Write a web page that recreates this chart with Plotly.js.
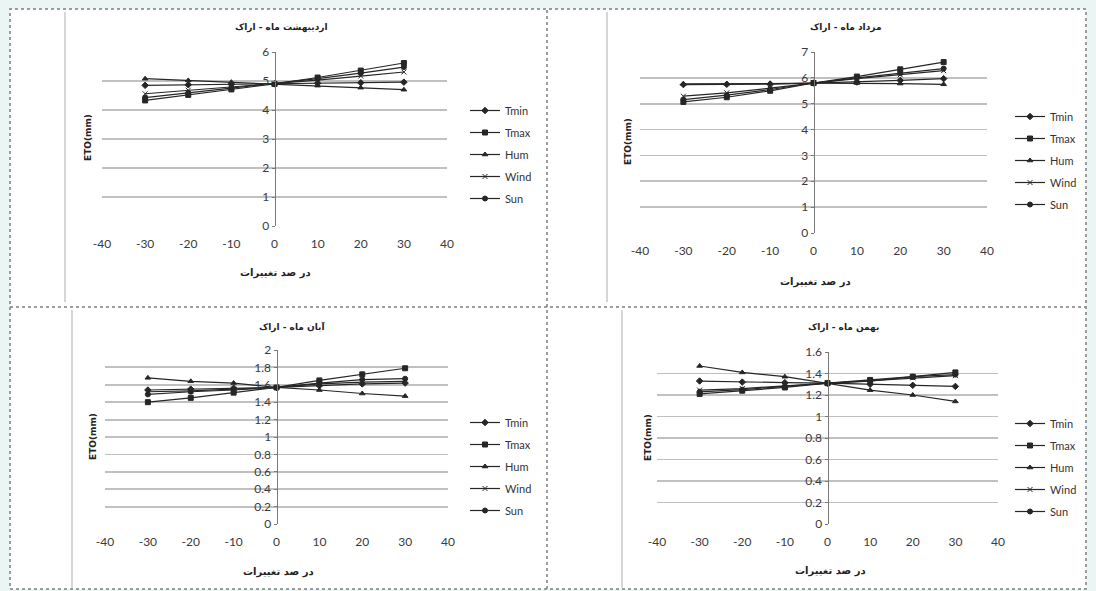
<!DOCTYPE html>
<html>
<head>
<meta charset="utf-8">
<script src="https://cdn.plot.ly/plotly-3.0.1.min.js"></script>
<style>
html,body{margin:0;padding:0;background:#ebf5f4;}
#chart{width:1096px;height:591px;}
</style>
</head>
<body>
<div id="chart"></div>
<script>
// ---------- data ----------
const changePct = [-30, -20, -10, 0, 10, 20, 30];
const seriesNames = ['Tmin', 'Tmax', 'Hum', 'Wind', 'Sun'];
const panelTitles = ['اردیبهشت ماه - اراک', 'مرداد ماه - اراک', 'آبان ماه - اراک', 'بهمن ماه - اراک'];
const xAxisTitle = 'در صد تغییرات';
const yAxisTitle = 'ETO(mm)';
const xTickVals = [-40, -30, -20, -10, 0, 10, 20, 30, 40];
const xTickText = ['-40', '-30', '-20', '-10', '0', '10', '20', '30', '40'];

// Ordibehesht
const ord_Tmin = [4.85, 4.87, 4.88, 4.90, 4.92, 4.94, 4.96];
const ord_Tmax = [4.33, 4.52, 4.71, 4.90, 5.12, 5.36, 5.62];
const ord_Hum  = [5.08, 5.02, 4.96, 4.90, 4.84, 4.77, 4.70];
const ord_Wind = [4.56, 4.68, 4.79, 4.90, 5.03, 5.17, 5.31];
const ord_Sun  = [4.43, 4.59, 4.75, 4.90, 5.08, 5.27, 5.48];
// Mordad
const mor_Tmin = [5.74, 5.75, 5.76, 5.80, 5.84, 5.90, 5.97];
const mor_Tmax = [5.07, 5.25, 5.50, 5.80, 6.05, 6.33, 6.61];
const mor_Hum  = [5.77, 5.77, 5.78, 5.80, 5.80, 5.78, 5.75];
const mor_Wind = [5.29, 5.42, 5.60, 5.80, 5.97, 6.12, 6.28];
const mor_Sun  = [5.16, 5.33, 5.55, 5.80, 6.00, 6.18, 6.36];
// Aban
const aba_Tmin = [1.54, 1.55, 1.56, 1.57, 1.59, 1.61, 1.62];
const aba_Tmax = [1.40, 1.45, 1.51, 1.57, 1.65, 1.72, 1.79];
const aba_Hum  = [1.68, 1.64, 1.62, 1.57, 1.54, 1.50, 1.47];
const aba_Wind = [1.52, 1.53, 1.55, 1.57, 1.61, 1.63, 1.64];
const aba_Sun  = [1.49, 1.52, 1.54, 1.57, 1.62, 1.66, 1.67];
// Bahman
const bah_Tmin = [1.33, 1.32, 1.315, 1.31, 1.30, 1.29, 1.28];
const bah_Tmax = [1.21, 1.24, 1.27, 1.31, 1.34, 1.37, 1.41];
const bah_Hum  = [1.47, 1.41, 1.37, 1.31, 1.245, 1.20, 1.14];
const bah_Wind = [1.245, 1.26, 1.285, 1.31, 1.33, 1.36, 1.38];
const bah_Sun  = [1.23, 1.25, 1.28, 1.31, 1.33, 1.37, 1.39];

const panelData = [
  [ord_Tmin, ord_Tmax, ord_Hum, ord_Wind, ord_Sun],
  [mor_Tmin, mor_Tmax, mor_Hum, mor_Wind, mor_Sun],
  [aba_Tmin, aba_Tmax, aba_Hum, aba_Wind, aba_Sun],
  [bah_Tmin, bah_Tmax, bah_Hum, bah_Wind, bah_Sun]
];
const yMax = [6, 7, 2, 1.6];
const yStep = [1, 1, 0.2, 0.2];

// ---------- layout geometry (pixels) ----------
const W = 1096, H = 591;
const px = v => v / W, py = v => 1 - v / H;
const plotBox = [ // left, right, top, bottom
  [102, 447, 52, 226],
  [640, 987, 52, 233],
  [105, 448, 350, 524],
  [657, 998, 352, 524]
];
const titlePos = [[281, 28], [845, 28], [292, 327], [843, 327]];
const xTitlePos = [[275, 273], [815, 282], [278, 572], [830, 571]];
const yTitlePos = [[88, 138], [628, 142], [93, 437], [648, 438]];
const legendPos = [[465, 96], [1010, 102], [465, 408], [1010, 409]];
const areaLines = [[65, 12, 302], [607, 12, 302], [72, 310, 588], [622, 310, 588]];

const symbols = ['diamond', 'square', 'triangle-up', 'x-thin', 'circle'];
const msizes = [5, 5, 5, 5, 5];
const lineColor = '#262626';
const tickFont = {family: 'Lato, "Open Sans", sans-serif', size: 12, color: '#3a3a3a'};
const faFont = {family: '"DejaVu Sans", sans-serif', size: 9, color: '#222'};

const traces = [];
const layout = {
  width: W, height: H,
  margin: {l: 0, r: 0, t: 0, b: 0},
  paper_bgcolor: '#ebf5f4',
  plot_bgcolor: '#ffffff',
  showlegend: true,
  annotations: [],
  shapes: []
};

for (let p = 0; p < 4; p++) {
  const sfx = p === 0 ? '' : String(p + 1);
  const [l, r, t, b] = plotBox[p];
  const xd = [px(l), px(r)], yd = [py(b), py(t)];
  layout['xaxis' + sfx] = {
    domain: xd, range: [-40, 40], anchor: 'y' + sfx,
    tickmode: 'array', tickvals: xTickVals, ticktext: xTickText,
    showgrid: false, zeroline: false, showline: false, ticks: '',
    ticklabelstandoff: 9, tickfont: tickFont, fixedrange: true
  };
  layout['yaxis' + sfx] = {
    domain: yd, range: [0, yMax[p]], dtick: yStep[p], tick0: 0,
    anchor: 'free', position: (xd[0] + xd[1]) / 2,
    showgrid: true, gridcolor: '#c0c0c0', gridwidth: 1.8,
    zeroline: false, showline: true, linecolor: '#7a7a7a', linewidth: 1,
    ticks: 'outside', ticklen: 3, tickcolor: '#7a7a7a',
    tickfont: tickFont, fixedrange: true
  };
  const legName = p === 0 ? 'legend' : 'legend' + (p + 1);
  layout[legName] = {
    x: px(legendPos[p][0]), y: py(legendPos[p][1]), xanchor: 'left', yanchor: 'top',
    bgcolor: 'rgba(0,0,0,0)', font: {family: 'Lato, "Open Sans", sans-serif', size: 11, color: '#333'},
    tracegroupgap: 3, itemwidth: 30
  };
  for (let s = 0; s < 5; s++) {
    traces.push({
      x: changePct, y: panelData[p][s], name: seriesNames[s],
      type: 'scatter', mode: 'lines+markers',
      xaxis: 'x' + sfx, yaxis: 'y' + sfx, legend: legName,
      legendgroup: 'g' + p + '_' + s,
      line: {color: lineColor, width: 1.2},
      marker: {symbol: symbols[s], size: msizes[s], color: lineColor, line: {color: lineColor, width: 1}},
      hoverinfo: 'skip'
    });
  }
  layout.annotations.push({
    text: '<b>' + panelTitles[p] + '</b>', xref: 'paper', yref: 'paper',
    x: px(titlePos[p][0]), y: py(titlePos[p][1]), xanchor: 'center', yanchor: 'middle',
    showarrow: false, font: faFont
  });
  layout.annotations.push({
    text: '<b>' + xAxisTitle + '</b>', xref: 'paper', yref: 'paper',
    x: px(xTitlePos[p][0]), y: py(xTitlePos[p][1]), xanchor: 'center', yanchor: 'middle',
    showarrow: false, font: {family: '"DejaVu Sans", sans-serif', size: 10, color: '#222'}
  });
  layout.annotations.push({
    text: '<b>' + yAxisTitle + '</b>', xref: 'paper', yref: 'paper', textangle: -90,
    x: px(yTitlePos[p][0]), y: py(yTitlePos[p][1]), xanchor: 'center', yanchor: 'middle',
    showarrow: false, font: {family: '"DejaVu Sans", sans-serif', size: 9, color: '#222'}
  });
  layout.shapes.push({
    type: 'line', xref: 'paper', yref: 'paper', layer: 'below',
    x0: px(areaLines[p][0]), x1: px(areaLines[p][0]), y0: py(areaLines[p][1]), y1: py(areaLines[p][2]),
    line: {color: '#d6d6d6', width: 2}
  });
}

// outer white box with dotted borders and dividers
layout.shapes.unshift(
  {type: 'rect', xref: 'paper', yref: 'paper', layer: 'below',
   x0: px(10), x1: px(1086), y0: py(589), y1: py(9),
   fillcolor: '#ffffff', line: {color: '#7d7d7d', width: 1.5, dash: 'dot'}},
  {type: 'line', xref: 'paper', yref: 'paper', layer: 'below',
   x0: px(547), x1: px(547), y0: py(589), y1: py(9),
   line: {color: '#7d7d7d', width: 1.5, dash: 'dot'}},
  {type: 'line', xref: 'paper', yref: 'paper', layer: 'below',
   x0: px(10), x1: px(1086), y0: py(307), y1: py(307),
   line: {color: '#7d7d7d', width: 1.5, dash: 'dot'}}
);

Plotly.newPlot('chart', traces, layout, {displayModeBar: false, staticPlot: true});
</script>
</body>
</html>
